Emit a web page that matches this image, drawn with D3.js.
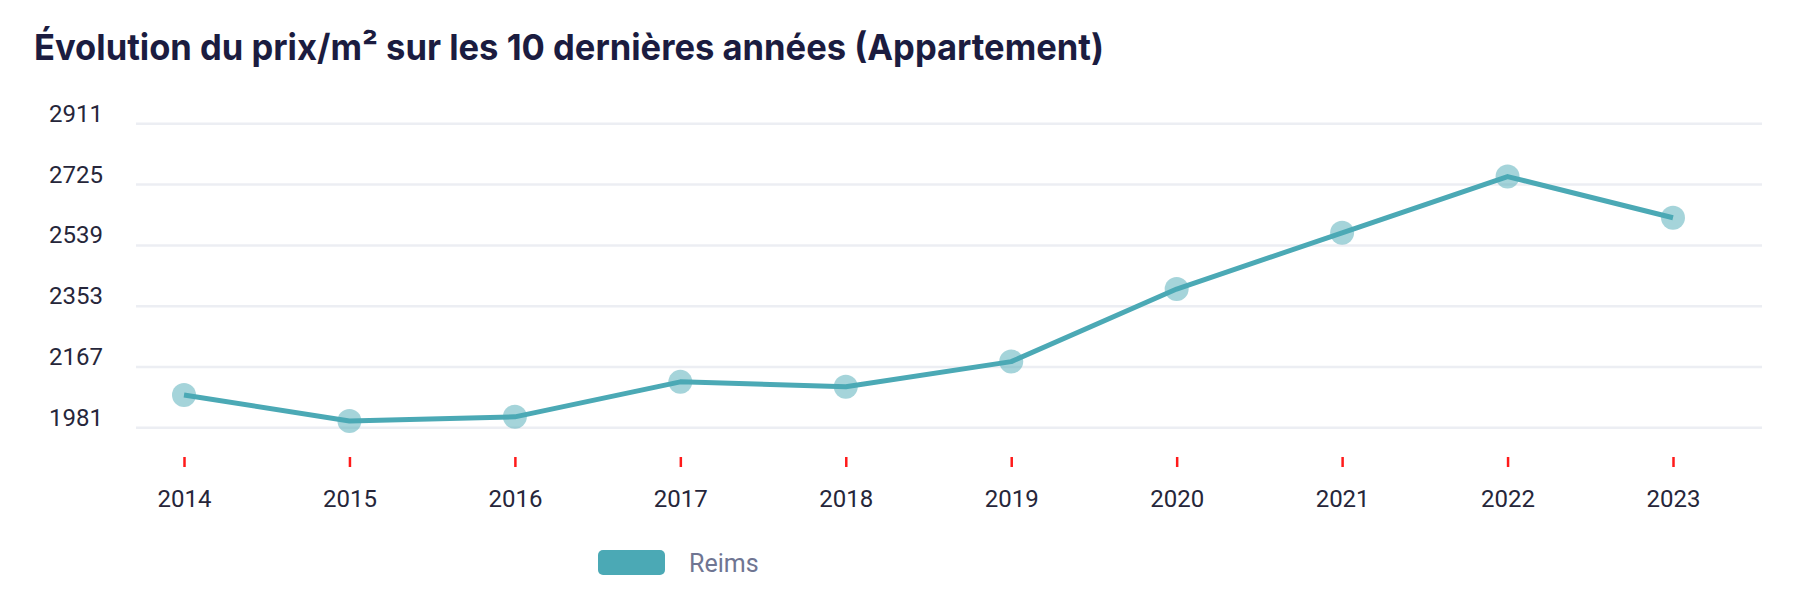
<!DOCTYPE html>
<html>
<head>
<meta charset="utf-8">
<script src="https://cdn.jsdelivr.net/npm/d3@7"></script>
<style>
  body { margin: 0; background: #fff; }
  svg { display: block; }
</style>
</head>
<body>
<svg id="chart" width="1800" height="616"></svg>
<script>
const years = ["2014", "2015", "2016", "2017", "2018", "2019", "2020", "2021", "2022", "2023"];
const reims = [2080, 2000, 2013, 2120, 2105, 2182, 2404, 2576, 2748, 2622];
const yTicks = [1981, 2167, 2353, 2539, 2725, 2911];
const seriesName = "Reims";
const title = "Évolution du prix/m² sur les 10 dernières années (Appartement)";

const svg = d3.select("#chart");
const teal = "#4ba9b5";

const grid = { left: 136, right: 1762 };

const x = d3.scalePoint()
  .domain(years)
  .range([184, 1673]);

const y = d3.scaleLinear()
  .domain([1981, 2911])
  .range([427.3, 123.3]);

// title
svg.append("text")
  .attr("x", 34)
  .attr("y", 60)
  .attr("textLength", 1070)
  .attr("lengthAdjust", "spacingAndGlyphs")
  .style("font-family", "Inter, 'Noto Sans', sans-serif")
  .style("font-weight", 700)
  .style("font-size", "36px")
  .style("fill", "#1b1c40")
  .text(title);

// y axis + gridlines
const yAxis = svg.append("g")
  .attr("transform", `translate(${grid.left},0)`)
  .call(d3.axisLeft(y).tickValues(yTicks).tickSize(-(grid.right - grid.left)).tickFormat(d3.format("d")));

yAxis.select(".domain").remove();
yAxis.selectAll(".tick line")
  .attr("stroke", "#eceef3")
  .attr("stroke-width", 2.5);
yAxis.selectAll(".tick text")
  .attr("x", 49 - grid.left)
  .attr("dy", "-2px")
  .attr("text-anchor", "start")
  .style("font-family", "Roboto, sans-serif")
  .style("font-size", "24px")
  .style("fill", "#26263a");

// x axis with red ticks
const xAxis = svg.append("g")
  .attr("transform", "translate(0,457)")
  .call(d3.axisBottom(x).tickSize(10).tickPadding(0));

xAxis.select(".domain").remove();
xAxis.selectAll(".tick line")
  .attr("stroke", "#ff1a1a")
  .attr("stroke-width", 2.5);
xAxis.selectAll(".tick text")
  .attr("y", 50)
  .attr("dy", 0)
  .style("font-family", "Roboto, sans-serif")
  .style("font-size", "24px")
  .style("fill", "#26263a");

// points under the line
const data = years.map((yr, i) => ({ year: yr, value: reims[i] }));

svg.append("g")
  .selectAll("circle")
  .data(data)
  .enter().append("circle")
  .attr("cx", d => x(d.year))
  .attr("cy", d => y(d.value))
  .attr("r", 12)
  .style("fill", teal)
  .style("opacity", 0.5);

const line = d3.line()
  .x(d => x(d.year))
  .y(d => y(d.value));

svg.append("path")
  .datum(data)
  .attr("d", line)
  .attr("fill", "none")
  .attr("stroke", teal)
  .attr("stroke-width", 5)
  .attr("stroke-linejoin", "round");

// legend
const legend = svg.append("g").attr("transform", "translate(598,550)");
legend.append("rect")
  .attr("width", 67)
  .attr("height", 25)
  .attr("rx", 5)
  .style("fill", teal);
legend.append("text")
  .attr("x", 91)
  .attr("y", 22)
  .style("font-family", "Roboto, sans-serif")
  .style("font-size", "25px")
  .style("fill", "#6f7592")
  .text(seriesName);
</script>
</body>
</html>
